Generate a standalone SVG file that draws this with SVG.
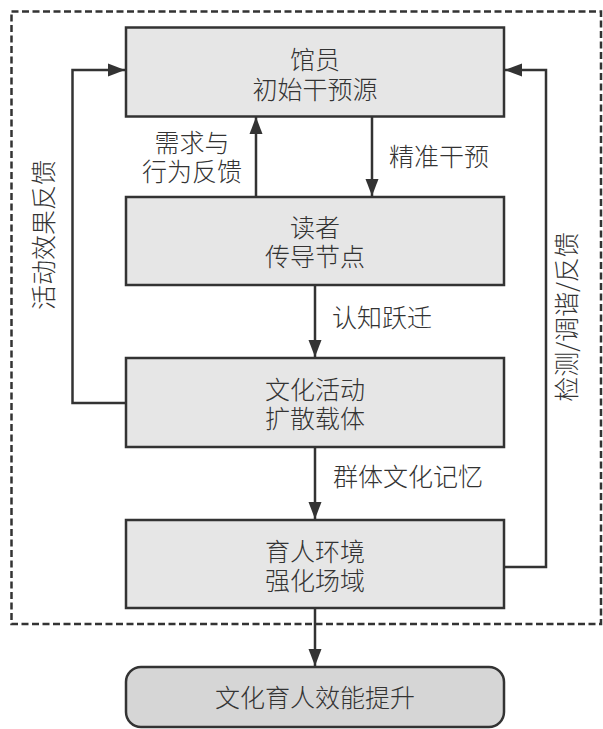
<svg xmlns="http://www.w3.org/2000/svg" width="603" height="729" viewBox="0 0 603 729">
<style>
.box{fill:#e6e6e6;stroke:#333;stroke-width:2.5}
.final{fill:#d6d6d6;stroke:#333;stroke-width:2.5}
.t{font-family:"Noto Sans CJK SC","Noto Sans",sans-serif;font-size:25px;font-weight:300;fill:#333;text-anchor:middle}
.ln{fill:none;stroke:#333;stroke-width:2.5}
.dash{fill:none;stroke:#333;stroke-width:2.5;stroke-dasharray:7 3.5}
</style>
<defs>
<marker id="ah" markerUnits="userSpaceOnUse" markerWidth="18" markerHeight="14" refX="17" refY="7" orient="auto">
<path d="M0,0.5 L17,7 L0,13.5 z" fill="#333"/>
</marker>
</defs>
<rect class="dash" x="11.5" y="11.5" width="589.5" height="612.5"/>
<g id="connectors">
<line class="ln" x1="372" y1="117" x2="372" y2="196" marker-end="url(#ah)"/>
<line class="ln" x1="256" y1="197" x2="256" y2="117" marker-end="url(#ah)"/>
<line class="ln" x1="315" y1="285" x2="315" y2="357" marker-end="url(#ah)"/>
<line class="ln" x1="315" y1="447" x2="315" y2="519" marker-end="url(#ah)"/>
<line class="ln" x1="315" y1="608" x2="315" y2="666" marker-end="url(#ah)"/>
<polyline class="ln" points="126,403 72.5,403 72.5,70 125,70" marker-end="url(#ah)"/>
<polyline class="ln" points="504,567 546,567 546,70 505,70" marker-end="url(#ah)"/>
<text class="t" x="439" y="166">精准干预</text>
<text class="t" x="192" y="152">需求与</text>
<text class="t" x="192" y="181">行为反馈</text>
<text class="t" x="382" y="327">认知跃迁</text>
<text class="t" x="408" y="486">群体文化记忆</text>
<text class="t" transform="translate(53,235) rotate(-90)">活动效果反馈</text>
<text class="t" transform="translate(576,317) rotate(-90)">检测/调谐/反馈</text>
</g>
<g id="n1">
<rect class="box" x="126" y="27.5" width="378" height="89"/>
<text class="t" x="315" y="69">馆员</text>
<text class="t" x="315" y="99">初始干预源</text>
</g>
<g id="n2">
<rect class="box" x="126" y="197" width="378" height="88"/>
<text class="t" x="315" y="237">读者</text>
<text class="t" x="315" y="266">传导节点</text>
</g>
<g id="n3">
<rect class="box" x="126" y="358" width="378" height="89"/>
<text class="t" x="315" y="399">文化活动</text>
<text class="t" x="315" y="428">扩散载体</text>
</g>
<g id="n4">
<rect class="box" x="126" y="520" width="378" height="88"/>
<text class="t" x="315" y="561">育人环境</text>
<text class="t" x="315" y="590">强化场域</text>
</g>
<g id="n5">
<rect class="final" x="126" y="667" width="378" height="60" rx="15"/>
<text class="t" x="315" y="707">文化育人效能提升</text>
</g>
</svg>
